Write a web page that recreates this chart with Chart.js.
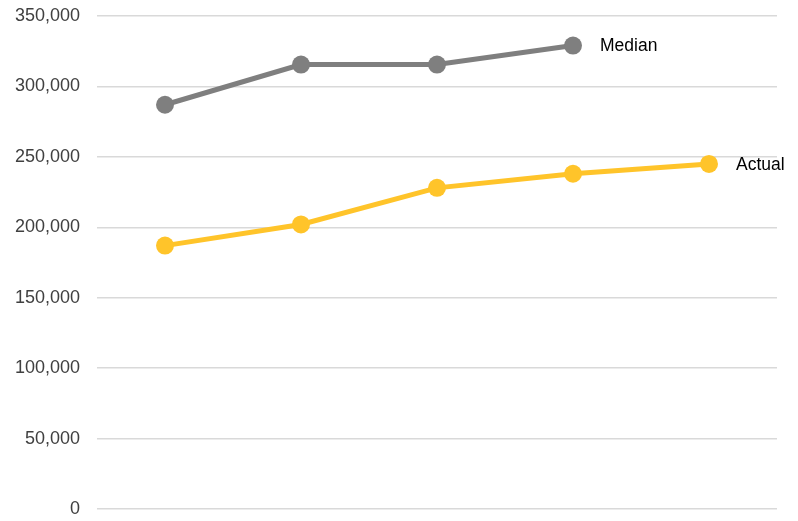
<!DOCTYPE html>
<html>
<head>
<meta charset="utf-8">
<script src="https://cdn.jsdelivr.net/npm/chart.js@4/dist/chart.umd.min.js"></script>
<style>
  html, body { margin: 0; padding: 0; background: #fff; }
  .chart-box { width: 798px; height: 521px; position: relative; }
</style>
</head>
<body>
<div class="chart-box"><canvas id="chart"></canvas></div>
<script>
// categories are not labelled in the picture
const categories = ['1', '2', '3', '4', '5'];
const medianValues = [287000, 315500, 315500, 329000, null];
const actualValues = [187000, 202000, 228000, 238000, 245000];
const yTicks = [0, 50000, 100000, 150000, 200000, 250000, 300000, 350000];

const GREY = '#7f7f7f';
const GOLD = '#ffc42a';
const FONT = '"Liberation Sans", Arial, sans-serif';

// write the series name just right of its last point
const endLabels = {
  id: 'endLabels',
  afterDatasetsDraw(chart) {
    const ctx = chart.ctx;
    ctx.save();
    ctx.font = '17.5px ' + FONT;
    ctx.fillStyle = '#000';
    ctx.textAlign = 'left';
    ctx.textBaseline = 'middle';
    chart.data.datasets.forEach((ds, i) => {
      const meta = chart.getDatasetMeta(i);
      let last = -1;
      ds.data.forEach((v, j) => { if (v != null) last = j; });
      if (last < 0) return;
      const pt = meta.data[last];
      ctx.fillText(ds.label, pt.x + 27, pt.y + 1);
    });
    ctx.restore();
  }
};

new Chart(document.getElementById('chart').getContext('2d'), {
  type: 'line',
  data: {
    labels: categories,
    datasets: [
      {
        label: 'Median', data: medianValues,
        borderColor: GREY, backgroundColor: GREY,
        borderWidth: 5, pointRadius: 9, pointHoverRadius: 9,
        pointBorderWidth: 0, spanGaps: false
      },
      {
        label: 'Actual', data: actualValues,
        borderColor: GOLD, backgroundColor: GOLD,
        borderWidth: 5, pointRadius: 9, pointHoverRadius: 9,
        pointBorderWidth: 0
      }
    ]
  },
  options: {
    responsive: true,
    maintainAspectRatio: false,
    animation: false,
    layout: { padding: { top: 16, right: 21, bottom: 12, left: 0 } },
    plugins: {
      legend: { display: false },
      tooltip: { enabled: false }
    },
    scales: {
      x: {
        display: false,
        offset: true
      },
      y: {
        min: 0,
        max: 350000,
        afterBuildTicks(scale) {
          scale.ticks = yTicks.map(v => ({ value: v }));
        },
        afterFit(scale) {
          scale.width = 97;
          scale.paddingTop = 0;
          scale.paddingBottom = 0;
        },
        border: { display: false },
        grid: { color: '#d9d9d9', lineWidth: 1.5, drawTicks: false },
        ticks: {
          padding: 17,
          color: '#404040',
          font: { family: FONT, size: 18 },
          callback: (v) => v.toLocaleString('en-US')
        }
      }
    }
  },
  plugins: [endLabels]
});
</script>
</body>
</html>
